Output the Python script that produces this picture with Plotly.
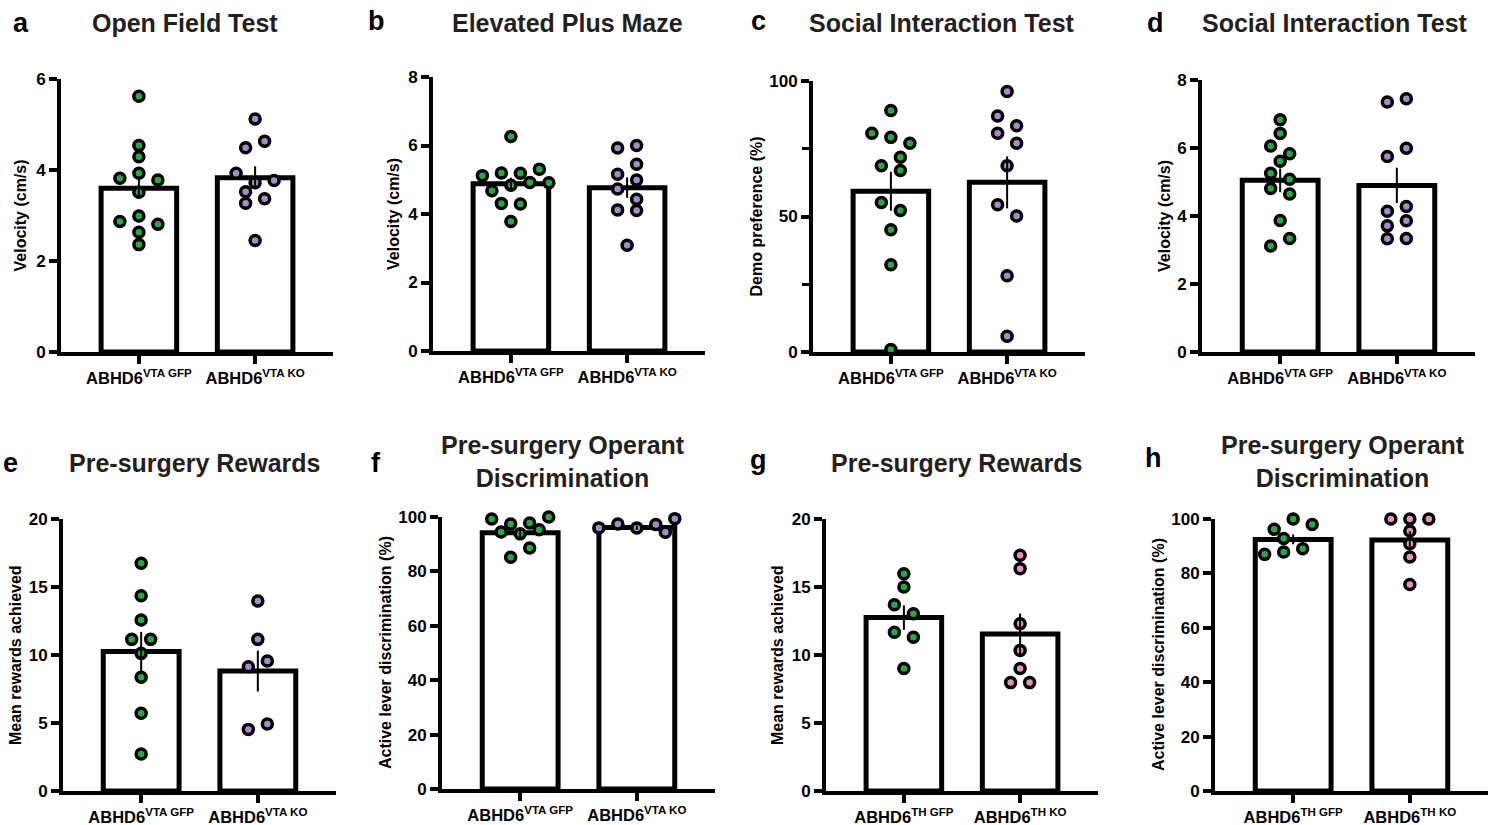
import plotly.graph_objects as go

W, H = 1497, 825

# ---------------- data ----------------
groups_vta = ["ABHD6<sup>VTA GFP</sup>", "ABHD6<sup>VTA KO</sup>"]
groups_th = ["ABHD6<sup>TH GFP</sup>", "ABHD6<sup>TH KO</sup>"]

# a  Open Field Test - velocity (cm/s)
a_gfp = [5.62, 4.54, 4.29, 3.82, 3.93, 3.78, 3.51, 2.87, 2.99, 2.81, 2.63, 2.36]
a_ko = [5.12, 4.49, 4.63, 3.93, 3.72, 3.77, 3.52, 3.27, 3.37, 2.45]
a_mean = [3.60, 3.83]
a_sem = [0.23, 0.25]

# b  Elevated Plus Maze - velocity (cm/s)
b_gfp = [6.26, 5.12, 5.20, 5.19, 5.31, 4.68, 4.84, 4.92, 4.91, 4.31, 4.29, 3.78]
b_ko = [5.93, 6.00, 5.16, 5.45, 4.73, 4.99, 4.12, 4.43, 4.10, 3.09]
b_mean = [4.88, 4.77]
b_sem = [0.18, 0.30]

# c  Social Interaction Test - demo preference (%)
c_gfp = [89.1, 80.7, 79.2, 77.0, 68.7, 71.9, 67.0, 55.2, 52.2, 45.1, 32.2, 0.9]
c_ko = [96.1, 87.1, 83.5, 80.7, 77.0, 68.7, 54.3, 50.2, 28.1, 5.8]
c_mean = [59.3, 62.6]
c_sem = [7.2, 9.6]

# d  Social Interaction Test - velocity (cm/s)
d_gfp = [6.83, 6.43, 6.06, 5.83, 5.61, 5.26, 5.08, 4.81, 4.65, 3.87, 3.12, 3.34]
d_ko = [7.35, 7.45, 5.75, 5.99, 4.14, 4.28, 3.71, 3.86, 3.33, 3.34]
d_mean = [5.05, 4.90]
d_sem = [0.35, 0.52]

# e  Pre-surgery Rewards (VTA)
e_gfp = [16.74, 14.36, 12.57, 11.15, 11.15, 10.12, 8.36, 5.71, 2.72]
e_ko = [13.97, 11.15, 9.14, 9.56, 4.53, 4.93]
e_mean = [10.25, 8.82]
e_sem = [1.45, 1.50]

# f  Pre-surgery Operant Discrimination (VTA)
f_gfp = [99.3, 97.4, 97.8, 100.0, 94.5, 93.8, 95.3, 85.2, 88.6]
f_ko = [96.0, 97.4, 96.0, 97.2, 99.4, 94.4]
f_mean = [94.2, 96.1]
f_sem = [1.6, 0.8]

# g  Pre-surgery Rewards (TH)
g_gfp = [15.98, 15.00, 13.70, 13.04, 11.67, 11.30, 9.00]
g_ko = [17.33, 16.35, 12.30, 10.34, 9.00, 7.97, 7.97]
g_mean = [12.75, 11.55]
g_sem = [0.90, 1.50]

# h  Pre-surgery Operant Discrimination (TH)
h_gfp = [96.2, 100.0, 98.0, 92.8, 87.0, 89.1, 87.9]
h_ko = [100.0, 100.0, 100.0, 95.6, 90.9, 86.0, 75.9]
h_mean = [92.5, 92.3]
h_sem = [1.8, 3.2]

# ---------------- styling / layout ----------------
GREEN = "#27a844"
PURPLE = "#a58bcb"
PINK = "#e98fc3"
FONT = "Arial, 'Liberation Sans', Helvetica, sans-serif"

panels = [
    dict(letter="a", title="Open Field Test", ytitle="Velocity (cm/s)",
         gfp=a_gfp, ko=a_ko, mean=a_mean, sem=a_sem, ymax=6, dtick=2, minor=None,
         cats=groups_vta, ko_color=PURPLE,
         box=(61, 333, 79, 352), letter_xy=(21, 23), title_xy=(185, 23), ytitle_x=20),
    dict(letter="b", title="Elevated Plus Maze", ytitle="Velocity (cm/s)",
         gfp=b_gfp, ko=b_ko, mean=b_mean, sem=b_sem, ymax=8, dtick=2, minor=None,
         cats=groups_vta, ko_color=PURPLE,
         box=(433, 705, 77, 351), letter_xy=(376, 21), title_xy=(567, 23), ytitle_x=393),
    dict(letter="c", title="Social Interaction Test", ytitle="Demo preference (%)",
         gfp=c_gfp, ko=c_ko, mean=c_mean, sem=c_sem, ymax=100, dtick=50, minor=25,
         cats=groups_vta, ko_color=PURPLE,
         box=(813, 1085, 81, 352), letter_xy=(758, 21), title_xy=(942, 23), ytitle_x=756),
    dict(letter="d", title="Social Interaction Test", ytitle="Velocity (cm/s)",
         gfp=d_gfp, ko=d_ko, mean=d_mean, sem=d_sem, ymax=8, dtick=2, minor=None,
         cats=groups_vta, ko_color=PURPLE,
         box=(1202, 1475, 80, 352), letter_xy=(1155, 23), title_xy=(1335, 23), ytitle_x=1164),
    dict(letter="e", title="Pre-surgery Rewards", ytitle="Mean rewards achieved",
         gfp=e_gfp, ko=e_ko, mean=e_mean, sem=e_sem, ymax=20, dtick=5, minor=None,
         cats=groups_vta, ko_color=PURPLE,
         box=(63, 336, 519, 791), letter_xy=(10, 463), title_xy=(195, 463), ytitle_x=15),
    dict(letter="f", title="Pre-surgery Operant<br>Discrimination", ytitle="Active lever discrimination (%)",
         gfp=f_gfp, ko=f_ko, mean=f_mean, sem=f_sem, ymax=100, dtick=20, minor=None,
         cats=groups_vta, ko_color=PURPLE,
         box=(442, 715, 517, 789), letter_xy=(376, 463), title_xy=(563, 461), ytitle_x=385),
    dict(letter="g", title="Pre-surgery Rewards", ytitle="Mean rewards achieved",
         gfp=g_gfp, ko=g_ko, mean=g_mean, sem=g_sem, ymax=20, dtick=5, minor=None,
         cats=groups_th, ko_color=PINK,
         box=(826, 1098, 519, 791), letter_xy=(758, 460), title_xy=(957, 463), ytitle_x=777),
    dict(letter="h", title="Pre-surgery Operant<br>Discrimination", ytitle="Active lever discrimination (%)",
         gfp=h_gfp, ko=h_ko, mean=h_mean, sem=h_sem, ymax=100, dtick=20, minor=None,
         cats=groups_th, ko_color=PINK,
         box=(1215, 1488, 519, 791), letter_xy=(1153, 458), title_xy=(1343, 461), ytitle_x=1158),
]

XR = [-0.67, 1.67]
MARK_SIZE = 10
ROW_T = 11.3    # px: vertical closeness to share a row
STEP = 19.0     # px: horizontal spacing inside a row
MIN_D = 11.0    # px: minimal centre distance between dots


def swarm(vals, ppy, ppx):
    """Prism-like column scatter: returns x offsets (data units)."""
    n = len(vals)
    order = sorted(range(n), key=lambda i: -vals[i])
    rows = []
    for i in order:
        if rows and (vals[rows[-1][0]] - vals[i]) * ppy <= ROW_T:
            rows[-1].append(i)
        else:
            rows.append([i])
    placed = []  # (xpx, ypx)
    offs = [0.0] * n
    shifts = [0]
    for k in range(1, 8):
        shifts += [k * STEP / 2, -k * STEP / 2]
    for r in rows:
        r = sorted(r)
        m = len(r)
        base = [(k - (m - 1) / 2) * STEP for k in range(m)]
        chosen = base
        for sh in shifts:
            cand = [b + sh for b in base]
            ok = True
            for xi, i in zip(cand, r):
                yi = vals[i] * ppy
                for (xp, yp) in placed:
                    if ((xi - xp) ** 2 + (yi - yp) ** 2) ** 0.5 < MIN_D:
                        ok = False
                        break
                if not ok:
                    break
            if ok:
                chosen = cand
                break
        for xi, i in zip(chosen, r):
            placed.append((xi, vals[i] * ppy))
            offs[i] = xi / ppx
    return offs


fig = go.Figure()
layout = dict(
    width=W, height=H, margin=dict(l=0, r=0, t=0, b=0, pad=0, autoexpand=False),
    paper_bgcolor="white", plot_bgcolor="white",
    showlegend=False, font=dict(family=FONT, color="black"),
    annotations=[],
)

for n, p in enumerate(panels, start=1):
    xl, xr, yt, yb = p["box"]
    xa = "x" if n == 1 else f"x{n}"
    ya = "y" if n == 1 else f"y{n}"
    ppy = (yb - yt) / p["ymax"]
    ppx = (xr - xl) / (XR[1] - XR[0])

    fig.add_trace(go.Bar(
        x=[0, 1], y=p["mean"], width=0.65, xaxis=xa, yaxis=ya,
        marker=dict(color="white", line=dict(color="black", width=5)),
        hoverinfo="skip"))

    for gi, (vals, col) in enumerate([(p["gfp"], GREEN), (p["ko"], p["ko_color"])]):
        offs = swarm(vals, ppy, ppx)
        fig.add_trace(go.Scatter(
            x=[gi + o for o in offs], y=vals, mode="markers", xaxis=xa, yaxis=ya,
            cliponaxis=False,
            marker=dict(size=MARK_SIZE, color=col, line=dict(color="black", width=3.5))))

    fig.add_trace(go.Scatter(
        x=[0, 1], y=p["mean"], mode="markers", xaxis=xa, yaxis=ya, cliponaxis=False,
        marker=dict(size=1, color="rgba(0,0,0,0)"),
        error_y=dict(type="data", array=p["sem"], color="black", thickness=2, width=0)))

    xkey = "xaxis" if n == 1 else f"xaxis{n}"
    ykey = "yaxis" if n == 1 else f"yaxis{n}"
    layout[xkey] = dict(
        domain=[xl / W, xr / W], anchor=ya, range=XR, automargin=False,
        tickvals=[0, 1], ticktext=p["cats"], ticks="outside", ticklen=8, tickwidth=4,
        tickcolor="black", showline=True, linewidth=4, linecolor="black",
        showgrid=False, zeroline=False, fixedrange=True,
        tickfont=dict(family=FONT, size=16.5, color="black", weight="bold"))
    yax = dict(
        domain=[1 - yb / H, 1 - yt / H], anchor=xa, range=[0, p["ymax"]], automargin=False,
        tick0=0, dtick=p["dtick"], ticks="outside", ticklen=8, tickwidth=4,
        tickcolor="black", showline=True, linewidth=4, linecolor="black",
        showgrid=False, zeroline=False, fixedrange=True,
        tickfont=dict(family=FONT, size=17, color="black", weight="bold"))
    if p["minor"]:
        yax["minor"] = dict(dtick=p["minor"], ticks="outside", ticklen=7, tickwidth=3,
                            tickcolor="black", showgrid=False)
    layout[ykey] = yax

    lx, ly = p["letter_xy"]
    layout["annotations"].append(dict(
        text=p["letter"], x=lx / W, y=1 - ly / H, xref="paper", yref="paper",
        xanchor="center", yanchor="middle", showarrow=False,
        font=dict(family=FONT, size=27, color="black", weight="bold")))
    tx, ty = p["title_xy"]
    layout["annotations"].append(dict(
        text=p["title"], x=tx / W, y=1 - ty / H, xref="paper", yref="paper",
        xanchor="center", yanchor="middle", showarrow=False,
        font=dict(family=FONT, size=25, color="#231f20", weight="bold")))
    layout["annotations"].append(dict(
        text=p["ytitle"], x=p["ytitle_x"] / W, y=1 - (yt + yb) / 2 / H,
        xref="paper", yref="paper", xanchor="center", yanchor="middle",
        textangle=-90, showarrow=False,
        font=dict(family=FONT, size=16, color="black", weight="bold")))

fig.update_layout(**layout)
fig.write_html("out.html", config={"displayModeBar": False, "staticPlot": True},
               post_script="document.body.style.margin='0';document.body.style.overflow='hidden';")
